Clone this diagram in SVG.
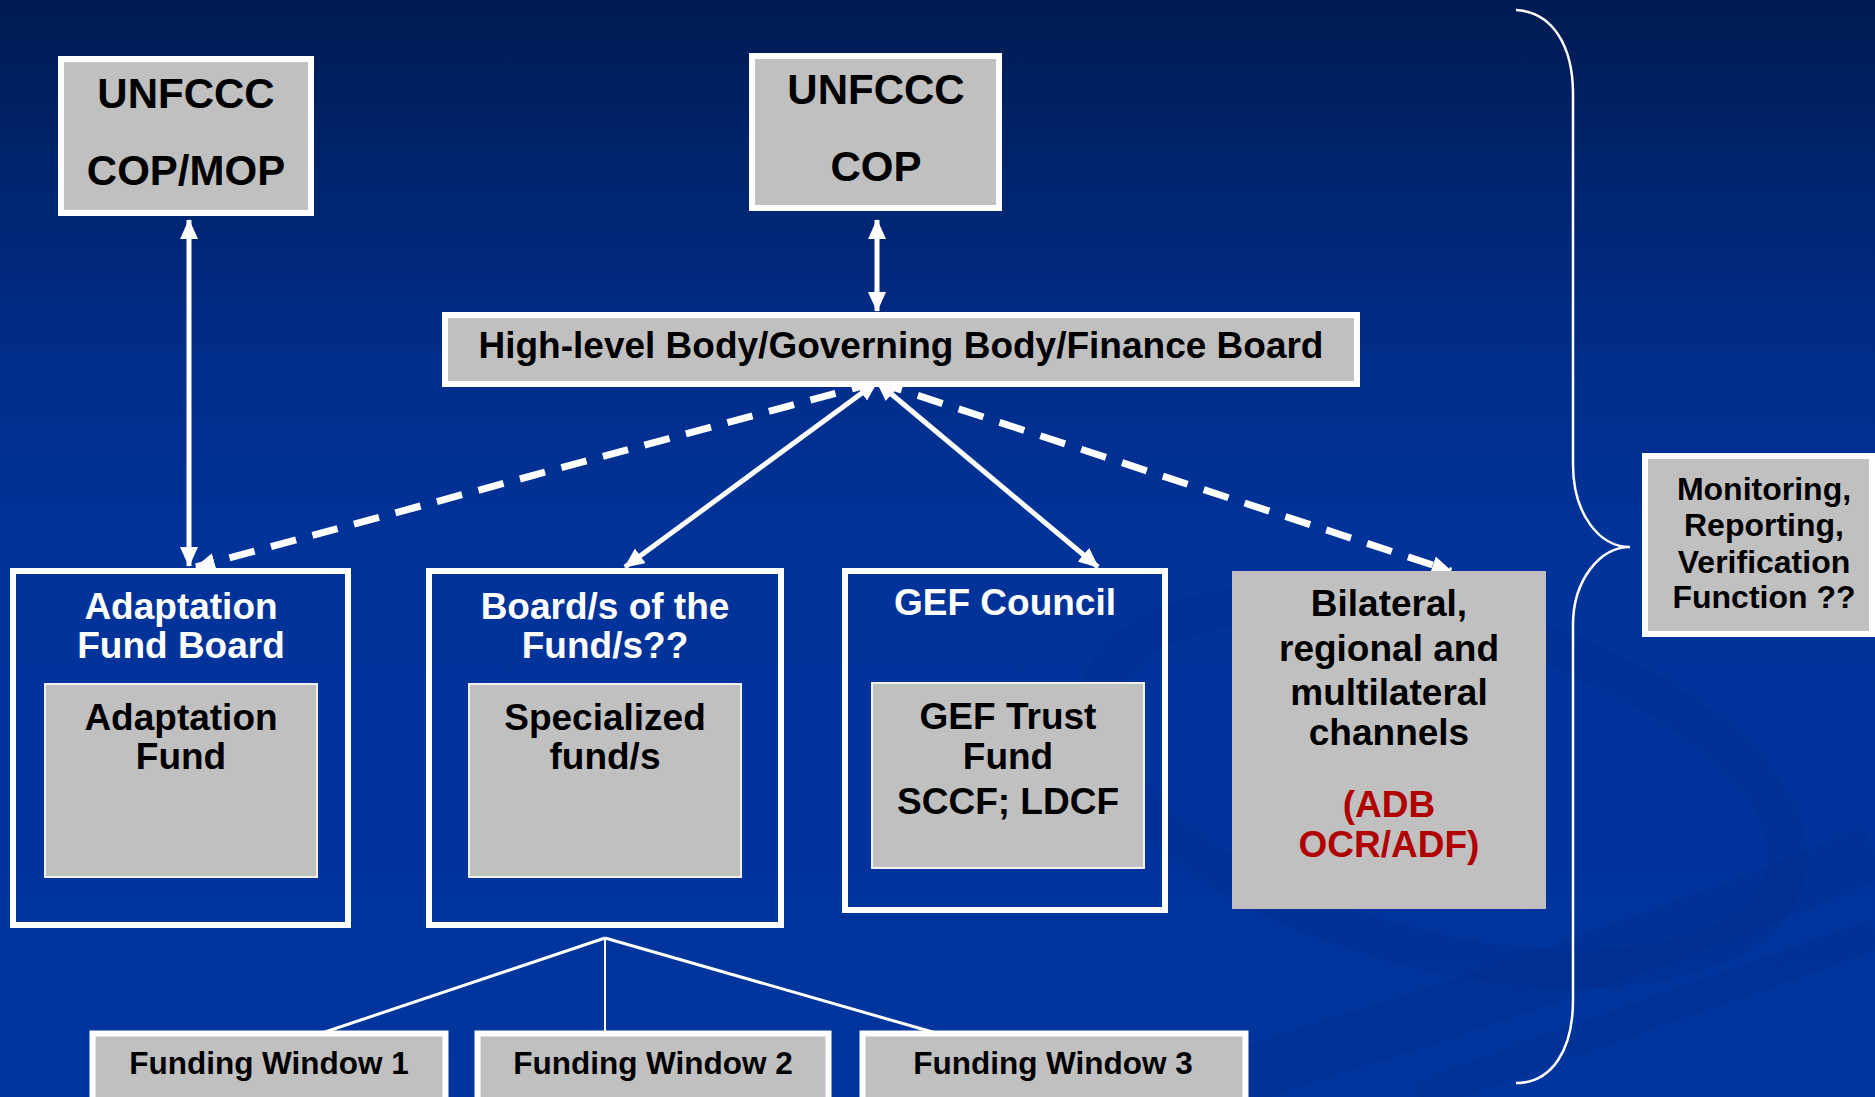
<svg xmlns="http://www.w3.org/2000/svg" width="1875" height="1097" viewBox="0 0 1875 1097">
<defs>
<linearGradient id="bg" x1="0" y1="0" x2="0" y2="1">
<stop offset="0" stop-color="#001b52"/>
<stop offset="0.3" stop-color="#002c86"/>
<stop offset="0.5" stop-color="#00339a"/>
<stop offset="1" stop-color="#00359e"/>
</linearGradient>
<marker id="ah" markerUnits="userSpaceOnUse" markerWidth="20" markerHeight="18" viewBox="0 0 20 18" refX="19" refY="9" orient="auto-start-reverse">
<path d="M0,0 L20,9 L0,18 z" fill="#fff"/>
</marker>
<style>
.frame{fill:none;stroke:#fff;stroke-width:6}
.gbox{fill:#c0c0c0;stroke:#fff;stroke-width:6}
.inner{fill:#c0c0c0;stroke:#f0f0f0;stroke-width:2}
.t{font-family:"Liberation Sans",Arial,sans-serif;font-weight:bold;text-anchor:middle}
.big{font-size:42px;fill:#000}
.mid{font-size:37px;fill:#000}
.wh{font-size:37px;fill:#fff}
.red{font-size:37px;fill:#b00000}
.mon{font-size:32px;fill:#000}
.fw{font-size:31.5px;fill:#000}
.solid{stroke:#fff;stroke-width:5;fill:none}
.dash{stroke:#fff;stroke-width:7;fill:none;stroke-dasharray:26 17}
.thin{stroke:#fff;fill:none}
</style>
</defs>
<rect x="0" y="0" width="1875" height="1097" fill="url(#bg)"/>
<g id="decor" fill="none" stroke="#002a88" stroke-opacity="0.3">
<ellipse cx="1442" cy="785" rx="355" ry="165" transform="rotate(15 1442 785)" stroke-width="38"/>
<path d="M1180,1097 C1450,1010 1700,930 1875,850" stroke-width="55"/>
<path d="M1420,1097 C1600,1030 1760,975 1875,935" stroke-width="30"/>
</g>
<g id="brace">
<path class="thin" stroke-width="2.5" d="M1516,10 C1552,12 1573,45 1573,94 L1573,464 C1573,515 1600,547 1630,547 C1600,547 1573,580 1573,625 L1573,1000 C1573,1050 1552,1083 1516,1083"/>
</g>
<g id="connectors">
<line class="solid" x1="189" y1="220" x2="189" y2="566" stroke-width="4" marker-start="url(#ah)" marker-end="url(#ah)"/>
<line class="solid" x1="877" y1="220" x2="877" y2="311" stroke-width="4" marker-start="url(#ah)" marker-end="url(#ah)"/>
<line class="dash" x1="877" y1="382" x2="196" y2="567" marker-start="url(#ah)" marker-end="url(#ah)"/>
<line class="solid" x1="877" y1="382" x2="625" y2="567" marker-start="url(#ah)" marker-end="url(#ah)"/>
<line class="solid" x1="877" y1="382" x2="1098" y2="567" marker-start="url(#ah)" marker-end="url(#ah)"/>
<line class="dash" x1="877" y1="382" x2="1451" y2="571" marker-start="url(#ah)" marker-end="url(#ah)"/>
<line class="thin" stroke-width="3" x1="605" y1="938" x2="322" y2="1033"/>
<line class="thin" stroke-width="2" x1="605" y1="938" x2="605" y2="1033"/>
<line class="thin" stroke-width="3" x1="605" y1="938" x2="936" y2="1033"/>
</g>
<g id="cop-mop">
<rect class="gbox" x="61" y="59" width="250" height="154"/>
<text class="t big" x="186" y="108">UNFCCC</text>
<text class="t big" x="186" y="185">COP/MOP</text>
</g>
<g id="cop">
<rect class="gbox" x="752" y="56" width="247" height="152"/>
<text class="t big" x="876" y="104">UNFCCC</text>
<text class="t big" x="876" y="181">COP</text>
</g>
<g id="high-level">
<rect class="gbox" x="445" y="315" width="912" height="69"/>
<text class="t mid" x="901" y="358">High-level Body/Governing Body/Finance Board</text>
</g>
<g id="adaptation-board">
<rect class="frame" x="13" y="571" width="335" height="354"/>
<text class="t wh" x="181" y="619">Adaptation</text>
<text class="t wh" x="181" y="658">Fund Board</text>
<g id="adaptation-fund">
<rect class="inner" x="45" y="684" width="272" height="193"/>
<text class="t mid" x="181" y="730">Adaptation</text>
<text class="t mid" x="181" y="769">Fund</text>
</g>
</g>
<g id="boards-funds">
<rect class="frame" x="429" y="571" width="352" height="354"/>
<text class="t wh" x="605" y="619">Board/s of the</text>
<text class="t wh" x="605" y="658">Fund/s??</text>
<g id="specialized-funds">
<rect class="inner" x="469" y="684" width="272" height="193"/>
<text class="t mid" x="605" y="730">Specialized</text>
<text class="t mid" x="605" y="769">fund/s</text>
</g>
</g>
<g id="gef-council">
<rect class="frame" x="845" y="571" width="320" height="339"/>
<text class="t wh" x="1005" y="615">GEF Council</text>
<g id="gef-trust">
<rect class="inner" x="872" y="683" width="272" height="185"/>
<text class="t mid" x="1008" y="729">GEF Trust</text>
<text class="t mid" x="1008" y="769">Fund</text>
<text class="t mid" x="1008" y="814">SCCF; LDCF</text>
</g>
</g>
<g id="bilateral">
<rect x="1232" y="571" width="314" height="338" fill="#c0c0c0"/>
<text class="t mid" x="1389" y="616">Bilateral,</text>
<text class="t mid" x="1389" y="661">regional and</text>
<text class="t mid" x="1389" y="705">multilateral</text>
<text class="t mid" x="1389" y="745">channels</text>
<text class="t red" x="1389" y="817">(ADB</text>
<text class="t red" x="1389" y="857">OCR/ADF)</text>
</g>
<g id="monitoring">
<rect class="gbox" x="1645" y="456" width="227" height="178"/>
<text class="t mon" x="1764" y="500">Monitoring,</text>
<text class="t mon" x="1764" y="536">Reporting,</text>
<text class="t mon" x="1764" y="573">Verification</text>
<text class="t mon" x="1764" y="608">Function ??</text>
</g>
<g id="fw1">
<rect class="gbox" x="92.5" y="1033.5" width="353" height="80" stroke-width="5"/>
<text class="t fw" x="269" y="1074">Funding Window 1</text>
</g>
<g id="fw2">
<rect class="gbox" x="477.5" y="1033.5" width="351" height="80" stroke-width="5"/>
<text class="t fw" x="653" y="1074">Funding Window 2</text>
</g>
<g id="fw3">
<rect class="gbox" x="862.5" y="1033.5" width="383" height="80" stroke-width="5"/>
<text class="t fw" x="1053" y="1074">Funding Window 3</text>
</g>
</svg>
